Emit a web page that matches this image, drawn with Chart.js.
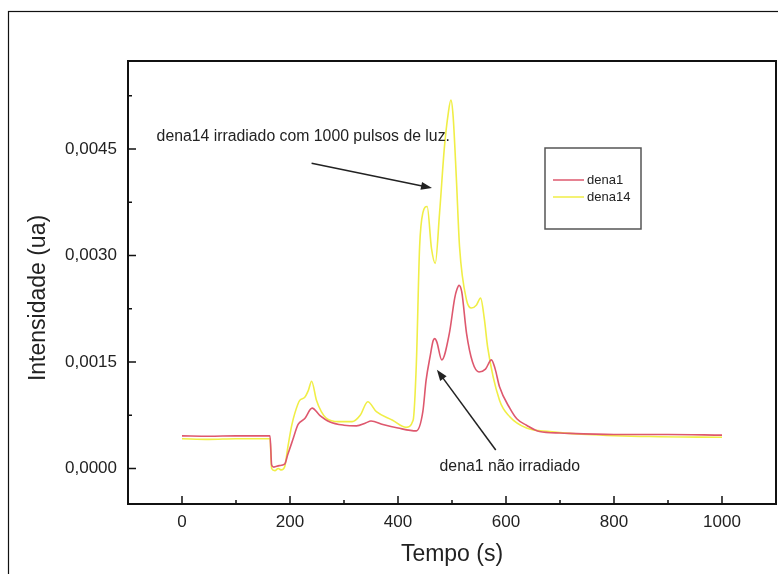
<!DOCTYPE html>
<html>
<head>
<meta charset="utf-8">
<script src="https://cdn.jsdelivr.net/npm/chart.js@4/dist/chart.umd.min.js"></script>
<style>
  html, body { margin: 0; padding: 0; background: #fff; }
  #wrap { width: 778px; height: 574px; }
</style>
</head>
<body>
<div id="wrap"><canvas id="tlChart" width="778" height="574"></canvas></div>
<script>
// values (time in s, intensity in ua)
const dena1X = [0, 50, 100, 150, 163, 166, 170, 180, 190, 196, 205, 215, 227, 241, 255, 273, 300, 323, 340, 350, 372, 400, 434, 446, 452, 460, 465, 468, 472, 481, 495, 505, 509, 513, 518, 527, 538, 550, 562, 573, 580, 588, 607, 620, 638, 662, 700, 800, 900, 1000];
const dena1Y = [0.00046, 0.000455, 0.00046, 0.00046, 0.00046, 0.00005, 0.00002, 0.00004, 0.00006, 0.0002, 0.0004, 0.00062, 0.0007, 0.00085, 0.00075, 0.00066, 0.00061, 0.0006, 0.00064, 0.00067, 0.00062, 0.00057, 0.00053, 0.0008, 0.00124, 0.0016, 0.0018, 0.00183, 0.00178, 0.00153, 0.0019, 0.0024, 0.00252, 0.00258, 0.00249, 0.0019, 0.0015, 0.00136, 0.0014, 0.00153, 0.0014, 0.00115, 0.00085, 0.0007, 0.00061, 0.00052, 0.0005, 0.00048, 0.00048, 0.00047];

const dena14X = [0, 50, 100, 150, 163, 166, 172, 178, 184, 190, 196, 203, 209, 218, 227, 234, 240, 249, 258, 267, 290, 315, 330, 344, 360, 390, 415, 428, 434, 440, 446, 454, 462, 469, 477, 486, 493, 498, 502, 508, 514, 527, 536, 545, 553, 560, 566, 588, 607, 638, 681, 750, 866, 1000];
const dena14Y = [0.00042, 0.00041, 0.00042, 0.00042, 0.00042, 0.0, -0.00003, 0.0, -0.00002, 0.00002, 0.0003, 0.0006, 0.00078, 0.00096, 0.001, 0.0011, 0.00123, 0.00096, 0.0008, 0.00071, 0.00066, 0.00066, 0.00075, 0.00094, 0.0008, 0.00068, 0.00058, 0.00068, 0.00148, 0.00312, 0.0036, 0.00369, 0.0031, 0.00289, 0.0036, 0.00453, 0.005, 0.00519, 0.00497, 0.0041, 0.00312, 0.00237, 0.00226, 0.0023, 0.0024, 0.0021, 0.00171, 0.00096, 0.00073, 0.00057, 0.00052, 0.00048, 0.00045, 0.00044];

const seriesNames = ['dena1', 'dena14'];
const xMajor = [0, 200, 400, 600, 800, 1000];
const xMinor = [100, 300, 500, 700, 900];
const yMajor = [0, 0.0015, 0.003, 0.0045];
const yMinor = [0.00075, 0.00225, 0.00375, 0.00525];

// annotation texts, anchored in data units
const noteIrr = { text: 'dena14 irradiado com 1000 pulsos de luz.', x: -47, y: 0.00468, from: [240, 0.0043], to: [463, 0.00395] };
const noteNao = { text: 'dena1 não irradiado', x: 477, y: 0.00003, from: [581, 0.00026], to: [472, 0.00139] };

const FONT = '"Liberation Sans", Arial, sans-serif';
const INK = '#222';

function toPoints(xs, ys) {
  return xs.map((x, i) => ({ x: x, y: ys[i] }));
}

function drawArrow(ctx, x1, y1, x2, y2) {
  const ang = Math.atan2(y2 - y1, x2 - x1);
  const len = 11, half = 4;
  ctx.save();
  ctx.strokeStyle = INK;
  ctx.fillStyle = INK;
  ctx.lineWidth = 1.5;
  ctx.beginPath();
  ctx.moveTo(x1, y1);
  ctx.lineTo(x2 - Math.cos(ang) * len * 0.8, y2 - Math.sin(ang) * len * 0.8);
  ctx.stroke();
  ctx.beginPath();
  ctx.moveTo(x2, y2);
  ctx.lineTo(x2 - Math.cos(ang) * len - Math.sin(ang) * half, y2 - Math.sin(ang) * len + Math.cos(ang) * half);
  ctx.lineTo(x2 - Math.cos(ang) * len + Math.sin(ang) * half, y2 - Math.sin(ang) * len - Math.cos(ang) * half);
  ctx.closePath();
  ctx.fill();
  ctx.restore();
}

const framePlugin = {
  id: 'frame',
  beforeDraw(chart) {
    const ctx = chart.ctx;
    ctx.save();
    ctx.fillStyle = '#fff';
    ctx.fillRect(0, 0, chart.width, chart.height);
    // outer page frame
    ctx.strokeStyle = '#111';
    ctx.lineWidth = 1.2;
    ctx.strokeRect(8.5, 11.5, 900, 700);
    ctx.restore();
  },
  afterDraw(chart) {
    const ctx = chart.ctx;
    const a = chart.chartArea;
    const xs = chart.scales.x, ys = chart.scales.y;
    ctx.save();

    // box round the plot
    ctx.strokeStyle = '#111';
    ctx.lineWidth = 2;
    ctx.strokeRect(a.left, a.top, a.right - a.left, a.bottom - a.top);

    // inward ticks
    ctx.lineWidth = 1.5;
    ctx.beginPath();
    xMajor.forEach(v => { const p = xs.getPixelForValue(v); ctx.moveTo(p, a.bottom); ctx.lineTo(p, a.bottom - 8); });
    xMinor.forEach(v => { const p = xs.getPixelForValue(v); ctx.moveTo(p, a.bottom); ctx.lineTo(p, a.bottom - 4); });
    yMajor.forEach(v => { const p = ys.getPixelForValue(v); ctx.moveTo(a.left, p); ctx.lineTo(a.left + 8, p); });
    yMinor.forEach(v => { const p = ys.getPixelForValue(v); ctx.moveTo(a.left, p); ctx.lineTo(a.left + 4, p); });
    ctx.stroke();

    // axis titles
    ctx.fillStyle = INK;
    ctx.font = '23px ' + FONT;
    ctx.textAlign = 'center';
    ctx.textBaseline = 'middle';
    ctx.fillText('Tempo (s)', 452, 555);
    ctx.save();
    ctx.translate(39, 298);
    ctx.rotate(-Math.PI / 2);
    ctx.fillText('Intensidade (ua)', 0, 0);
    ctx.restore();

    // annotations
    ctx.font = '15.8px ' + FONT;
    ctx.textAlign = 'left';
    [noteIrr, noteNao].forEach(n => {
      ctx.fillText(n.text, xs.getPixelForValue(n.x), ys.getPixelForValue(n.y));
      drawArrow(ctx, xs.getPixelForValue(n.from[0]), ys.getPixelForValue(n.from[1]),
                xs.getPixelForValue(n.to[0]), ys.getPixelForValue(n.to[1]));
    });

    // legend box
    const lx = 545, ly = 148, lw = 96, lh = 81;
    ctx.strokeStyle = '#555';
    ctx.lineWidth = 1.5;
    ctx.strokeRect(lx, ly, lw, lh);
    ctx.font = '13px ' + FONT;
    chart.data.datasets.forEach((ds, i) => {
      const yy = 180 + i * 17;
      ctx.strokeStyle = ds.borderColor;
      ctx.lineWidth = 1.5;
      ctx.beginPath();
      ctx.moveTo(553, yy);
      ctx.lineTo(584, yy);
      ctx.stroke();
      ctx.fillStyle = INK;
      ctx.fillText(ds.label, 587, yy);
    });

    ctx.restore();
  }
};

const ctx1 = document.getElementById('tlChart').getContext('2d');
new Chart(ctx1, {
  type: 'line',
  data: {
    datasets: [
      {
        label: seriesNames[0],
        data: toPoints(dena1X, dena1Y),
        borderColor: 'rgb(222, 88, 110)',
        borderWidth: 1.6,
        pointRadius: 0,
        tension: 0.4,
        cubicInterpolationMode: 'monotone',
        fill: false,
        order: 1
      },
      {
        label: seriesNames[1],
        data: toPoints(dena14X, dena14Y),
        borderColor: 'rgb(240, 238, 70)',
        borderWidth: 1.6,
        pointRadius: 0,
        tension: 0.4,
        cubicInterpolationMode: 'monotone',
        fill: false,
        order: 2
      }
    ]
  },
  options: {
    responsive: false,
    animation: false,
    layout: { padding: { left: 0, top: 61, right: 2, bottom: 0 } },
    plugins: { legend: { display: false }, tooltip: { enabled: false } },
    scales: {
      x: {
        type: 'linear',
        min: -100,
        max: 1100,
        afterBuildTicks: s => { s.ticks = xMajor.map(v => ({ value: v })); },
        afterFit: s => { s.height = 70; },
        grid: { display: false },
        border: { display: false },
        ticks: {
          color: INK,
          font: { family: FONT, size: 17 },
          padding: 0,
          maxRotation: 0,
          autoSkip: false,
          callback: v => String(v)
        }
      },
      y: {
        type: 'linear',
        min: -0.0005,
        max: 0.00574,
        afterBuildTicks: s => { s.ticks = yMajor.map(v => ({ value: v })); },
        afterFit: s => { s.width = 128; },
        grid: { display: false },
        border: { display: false },
        ticks: {
          color: INK,
          font: { family: FONT, size: 17 },
          padding: 3,
          autoSkip: false,
          callback: v => v.toFixed(4).replace('.', ',')
        }
      }
    }
  },
  plugins: [framePlugin]
});
</script>
</body>
</html>
